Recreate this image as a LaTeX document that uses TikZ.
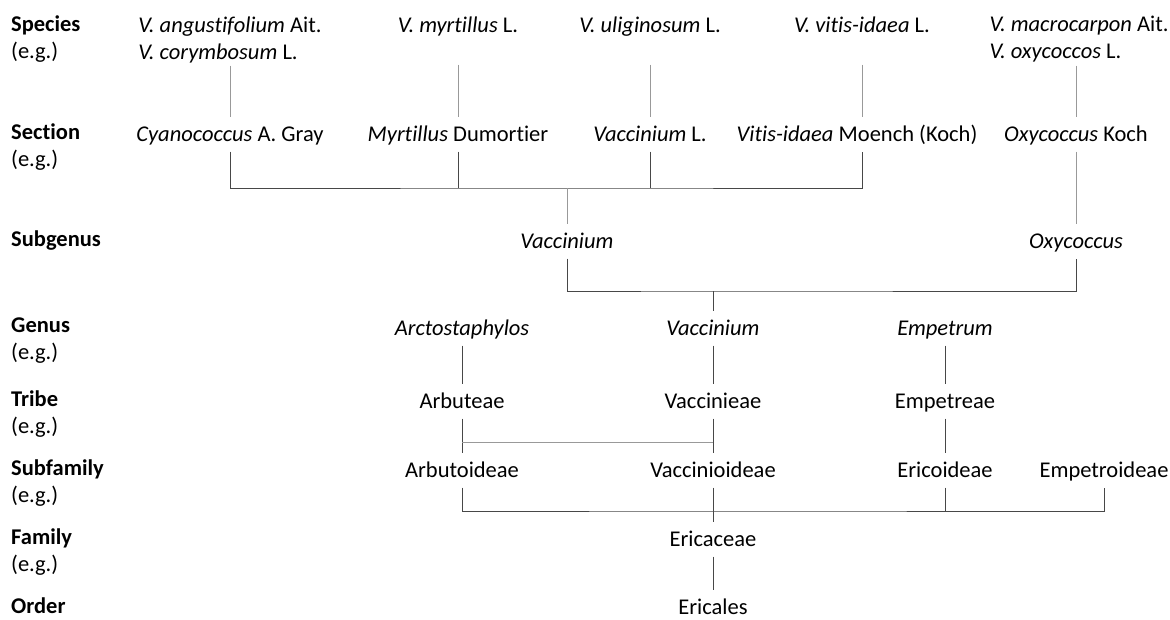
\documentclass[tikz,border=0pt]{standalone}
\usepackage{fontspec}
\setmainfont{Carlito}[Ligatures=NoCommon]
\begin{document}
\begin{tikzpicture}[x=1pt,y=-1pt,
    every node/.style={inner sep=0pt,font=\fontsize{22.5}{27}\selectfont},
    rank/.style={anchor=west,align=left},
    taxon/.style={text height=15pt,text depth=1pt,outer ysep=9.5pt},
    pair/.style={align=left,outer ysep=3pt},
    link/.style={draw=black!72,line width=0.8pt},
    lite/.style={draw=black!40,line width=0.8pt}]
            \useasboundingbox (0,0) rectangle (1170,619);

            % ranks
            \node[rank] (rSpecies) at (11,39) {\textbf{Species}\\(e.g.)};
            \node[rank] (rSection) at (11,147.5) {\textbf{Section}\\(e.g.)};
            \node[rank] (rSubgenus) at (11,241) {\textbf{Subgenus}};
            \node[rank] (rGenus) at (11,341) {\textbf{Genus}\\(e.g.)};
            \node[rank] (rTribe) at (11,414) {\textbf{Tribe}\\(e.g.)};
            \node[rank] (rSubfamily) at (11,483.5) {\textbf{Subfamily}\\(e.g.)};
            \node[rank] (rFamily) at (11,552) {\textbf{Family}\\(e.g.)};
            \node[rank] (rOrder) at (11,606) {\textbf{Order}};

            % species
            \node[pair] (sp1) at (230,39.5) {\textit{V. angustifolium} Ait.\\\textit{V. corymbosum} L.};
            \node[taxon] (sp2) at (458,25) {\textit{V. myrtillus} L.};
            \node[taxon] (sp3) at (650,25) {\textit{V. uliginosum} L.};
            \node[taxon] (sp4) at (862,25) {\textit{V. vitis-idaea} L.};
            \node[pair] (sp5) at (1079,39.5) {\textit{V. macrocarpon} Ait.\\\textit{V. oxycoccos} L.};

            % sections
            \node[taxon] (se1) at (230,134) {\textit{Cyanococcus} A. Gray};
            \node[taxon] (se2) at (458,134) {\textit{Myrtillus} Dumortier};
            \node[taxon] (se3) at (650,134) {\textit{Vaccinium} L.};
            \node[taxon] (se4) at (857,134) {\textit{Vitis-idaea} Moench (Koch)};
            \node[taxon] (se5) at (1076,134) {\textit{Oxycoccus} Koch};

            % subgenera
            \node[taxon] (sgV) at (567,241) {\textit{Vaccinium}};
            \node[taxon] (sgO) at (1076,241) {\textit{Oxycoccus}};

            % genera
            \node[taxon] (gA) at (462,328) {\textit{Arctostaphylos}};
            \node[taxon] (gV) at (713,328) {\textit{Vaccinium}};
            \node[taxon] (gE) at (945,328) {\textit{Empetrum}};

            % tribes
            \node[taxon] (tA) at (462,401) {Arbuteae};
            \node[taxon] (tV) at (713,401) {Vaccinieae};
            \node[taxon] (tE) at (945,401) {Empetreae};

            % subfamilies
            \node[taxon] (sfA) at (462,470) {Arbutoideae};
            \node[taxon] (sfV) at (713,470) {Vaccinioideae};
            \node[taxon] (sfE) at (945,470) {Ericoideae};
            \node[taxon] (sfM) at (1104,470) {Empetroideae};

            % family and order
            \node[taxon] (fam) at (713,539) {Ericaceae};
            \node[taxon] (ord) at (713,607) {Ericales};

            \coordinate (secbar) at (567,188);
            \coordinate (subbar) at (713,291);
            \coordinate (tribar) at (587,442);
            \coordinate (sfbar) at (713,511);

            \path [lite] (sp1) edge (se1);
            \path [lite] (sp2) edge[shorten <=22pt] (se2);
            \path [lite] (sp3) edge[shorten <=22pt] (se3);
            \path [lite] (sp4) edge[shorten <=22pt] (sp4 |- se4.north);
            \path [lite] (sp5.south -| se5) edge (se5);

            \draw [link] (se1) |- (secbar) -| (sp4 |- se4.south);
            \draw [link] (se2) -- (se2 |- secbar);
            \draw [link] (se3) -- (se3 |- secbar);
            \draw [lite] (secbar) -- (sgV);
            \draw [lite] (se5) -- (sgO);

            \draw [link] (sgV) |- (subbar) -| (sgO);
            \draw [link] (subbar) -- (gV);

            \path [link] (gA) edge (tA);
            \path [link] (gV) edge (tV);
            \path [link] (gE) edge (tE);

            \path [link] (tA) edge (sfA);
            \path [link] (tV) edge (sfV);
            \path [link] (tE) edge (sfE);
            \draw [lite] (tA |- tribar) -- (tV |- tribar);

            \draw [link] (sfA) |- (sfbar) -| (sfM);
            \draw [link] (sfE) -- (sfE |- sfbar);
            \draw [link] (sfV) -- (fam);
            \draw [link] (fam) -- (ord);
        \end{tikzpicture}
\end{document}
